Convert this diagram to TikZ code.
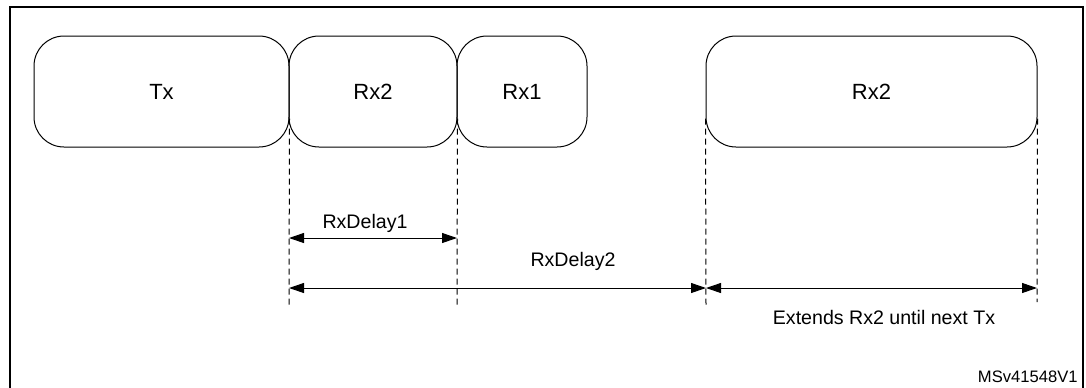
\documentclass[tikz,border=0pt]{standalone}
\usepackage{fontspec}
\setmainfont{Liberation Sans}
\usetikzlibrary{arrows.meta}
\tikzset{
  slot/.style={draw, line width=0.5pt, rounded corners=15pt, minimum height=55.5pt, inner sep=0pt, font=\fontsize{11}{13}\selectfont},
  guide/.style={draw, dashed, line width=0.5pt, dash pattern=on 3pt off 2pt},
  span/.style={draw, line width=0.5pt, {Triangle[length=7.5pt,width=5pt]}-{Triangle[length=7.5pt,width=5pt]}},
  lbl/.style={font=\fontsize{9.8}{12}\selectfont, inner sep=0pt}
}
\begin{document}
\begin{tikzpicture}[x=0.5pt, y=-0.5pt]
\useasboundingbox (0,0) rectangle (1086,387);
\draw[line width=1pt] (10,400) -- (10,7) -- (1083,7) -- (1083,400);
\node[slot, minimum width=127.5pt] (tx) at (161.5,91.5) {Tx};
\node[slot, minimum width=84pt] (rxtwo) at (373,91.5) {Rx2};
\node[slot, minimum width=65pt] (rxone) at (522,91.5) {Rx1};
\node[slot, minimum width=165.5pt] (rxlong) at (871.5,91.5) {Rx2};
\coordinate (ga) at (289,305);
\coordinate (gb) at (457,305);
\coordinate (gc) at (706,307);
\coordinate (gd) at (1037,302);
\draw[guide] (tx.south east) ++(0,-29) -- (ga);
\draw[guide] (rxtwo.south east) ++(0,-29) -- (gb);
\draw[guide] (rxlong.south west) ++(0,-29) -- (gc);
\draw[guide] (rxlong.south east) ++(0,-29) -- (gd);
\draw[span] (289,238) -- (457,238);
\draw[span] (289,288) -- (706,288);
\draw[span] (706,288) -- (1037,288);
\node[lbl] (rda) at (365,223) {RxDelay1};
\node[lbl] (rdb) at (573,261) {RxDelay2};
\node[lbl] (ext) at (884,317) {Extends Rx2 until next Tx};
\node[lbl, anchor=east, font=\fontsize{8.3}{10}\selectfont] (id) at (1078,377) {MSv41548V1};
\end{tikzpicture}
\end{document}
